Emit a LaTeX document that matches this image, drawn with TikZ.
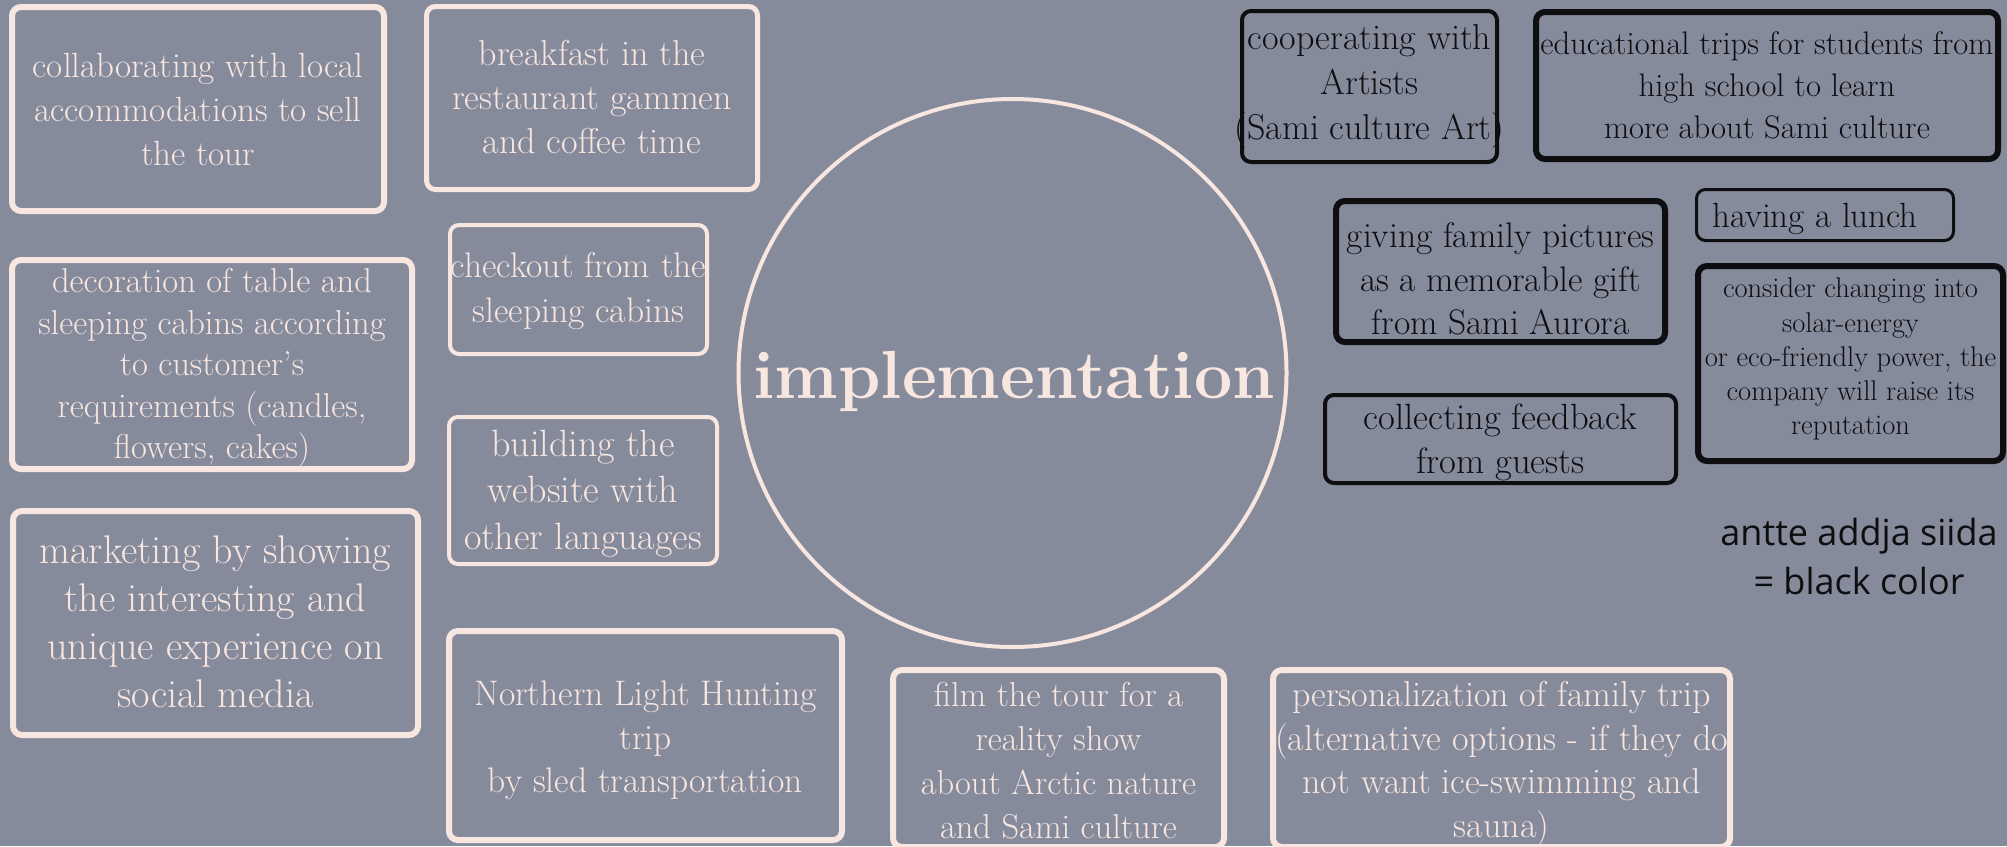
\documentclass[tikz,border=0pt]{standalone}
\usepackage{fontspec}
\newfontfamily\legendfont{Open Sans}
\definecolor{bgc}{RGB}{134,139,156}
\definecolor{pinkc}{RGB}{248,230,224}
\definecolor{inkc}{RGB}{14,14,16}
% centred block of lines: [downward shift], size, line distance, lines
\newcommand\boxtext[4][0pt]{\fontsize{#2}{#3}\selectfont\makebox[0pt]{\raisebox{-#1}[\height][\depth]{\begin{tabular}{@{}c@{}}#4\end{tabular}}}}
\begin{document}
\begin{tikzpicture}[x=1pt,y=-1pt,
  pinkbox/.style={draw=pinkc, text=pinkc, rounded corners=9pt, inner sep=0pt},
  blackbox/.style={draw=inkc, text=inkc, rounded corners=9pt, inner sep=0pt},
  ]
\useasboundingbox (0,0) rectangle (2007,846);
\fill[bgc] (0,0) rectangle (2007,846);

% central circle
\node[circle, draw=pinkc, line width=4pt, minimum size=548pt, inner sep=0pt] (hub) at (1012.5,373) {};
\node[anchor=base, text=pinkc, inner sep=0pt, font=\fontsize{68}{72}\selectfont\bfseries] (title) at (1014,398) {implementation};

% light boxes
\node[pinkbox, line width=6pt, minimum width=372pt, minimum height=204pt] (collab) at (198,109)
  {\boxtext[4pt]{35}{44}{collaborating with local\\accommodations to sell\\the tour}};
\node[pinkbox, line width=5pt, minimum width=331pt, minimum height=183pt] (breakfast) at (592,98)
  {\boxtext[3pt]{36}{44}{breakfast in the\\restaurant gammen\\and coffee time}};
\node[pinkbox, line width=4pt, minimum width=257pt, minimum height=129pt] (checkout) at (578.5,289.5)
  {\boxtext[1pt]{35.5}{45}{checkout from the\\sleeping cabins}};
\node[pinkbox, line width=6pt, minimum width=400pt, minimum height=209pt] (decor) at (212,364.5)
  {\boxtext[3pt]{34.5}{41.5}{decoration of table and\\sleeping cabins according\\to customer's\\requirements (candles,\\flowers, cakes)}};
\node[pinkbox, line width=4pt, minimum width=268pt, minimum height=147pt] (website) at (583,490.5)
  {\boxtext[3pt]{38}{46.5}{building the\\website with\\other languages}};
\node[pinkbox, line width=6pt, minimum width=405pt, minimum height=224pt] (marketing) at (215.5,623)
  {\boxtext[3pt]{40}{48}{marketing by showing\\the interesting and\\unique experience on\\social media}};
\node[pinkbox, line width=6pt, minimum width=393pt, minimum height=209pt] (aurora) at (645.5,735.5)
  {\boxtext[5pt]{35.5}{43.5}{Northern Light Hunting\\trip\\by sled transportation}};
\node[pinkbox, line width=6pt, minimum width=331pt, minimum height=177pt] (film) at (1058.5,758.5)
  {\boxtext[5pt]{34.5}{44}{film the tour for a\\reality show\\about Arctic nature\\and Sami culture}};
\node[pinkbox, line width=6pt, minimum width=457pt, minimum height=177pt] (personal) at (1501.5,758.5)
  {\boxtext[5pt]{36}{43.5}{personalization of family trip\\(alternative options - if they do\\not want ice-swimming and\\sauna)}};

% dark boxes
\node[blackbox, line width=4pt, minimum width=255pt, minimum height=151pt] (artists) at (1369.5,86.5)
  {\boxtext[-1pt]{36}{45}{cooperating with\\Artists\\(Sami culture Art)}};
\node[blackbox, line width=6pt, minimum width=462pt, minimum height=147pt] (students) at (1767,85.5)
  {\boxtext[3pt]{32.6}{42}{educational trips for students from\\high school to learn\\more about Sami culture}};
\node[blackbox, line width=6pt, minimum width=329pt, minimum height=141pt] (pictures) at (1500.5,271.5)
  {\boxtext[11pt]{35.5}{43.5}{giving family pictures\\as a memorable gift\\from Sami Aurora}};
\node[blackbox, line width=3pt, minimum width=257pt, minimum height=51pt] (lunch) at (1825,215)
  {\boxtext[4pt]{35}{43}{having a lunch\hspace*{20pt}}};
\node[blackbox, line width=6pt, minimum width=305pt, minimum height=195pt] (solar) at (1850.5,363.5)
  {\boxtext[-4pt]{28.5}{34.2}{consider changing into\\solar-energy\\or eco-friendly power, the\\company will raise its\\reputation}};
\node[blackbox, line width=4pt, minimum width=351pt, minimum height=84pt] (feedback) at (1500.5,439)
  {\boxtext[4pt]{36.5}{44}{collecting feedback\\from guests}};

% colour key
\node[text=inkc, inner sep=0pt, font=\legendfont] (key) at (1859,559.7)
  {\boxtext{36}{49}{antte addja siida\\= black color}};
\end{tikzpicture}
\end{document}
